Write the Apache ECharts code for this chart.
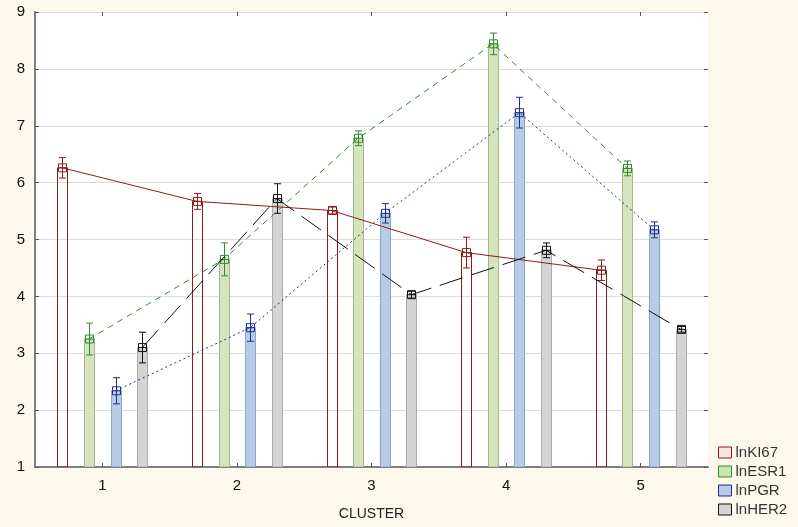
<!DOCTYPE html>
<html>
<head>
<meta charset="utf-8">
<script src="https://cdn.jsdelivr.net/npm/echarts/dist/echarts.min.js"></script>
<style>
  html, body { margin: 0; padding: 0; background: #fcf8ec; }
  #chart { width: 798px; height: 527px; }
</style>
</head>
<body>
<div id="chart"></div>
<script>
// Cluster means (log scale) with error half-widths
const clusters = ['1', '2', '3', '4', '5'];
const yTickValues = [1, 2, 3, 4, 5, 6, 7, 8, 9];

const lnKI67    = [6.26, 5.67, 5.51, 4.77, 4.46];
const lnKI67Err = [0.18, 0.14, 0.06, 0.27, 0.18];

const lnESR1    = [3.25, 4.65, 6.78, 8.44, 6.25];
const lnESR1Err = [0.28, 0.29, 0.13, 0.19, 0.13];

const lnPGR     = [2.34, 3.45, 5.46, 7.23, 5.17];
const lnPGRErr  = [0.23, 0.24, 0.17, 0.27, 0.14];

const lnHER2    = [3.10, 5.72, 4.03, 4.81, 3.42];
const lnHER2Err = [0.27, 0.26, 0.06, 0.13, 0.05];

const seriesNames = ['lnKI67', 'lnESR1', 'lnPGR', 'lnHER2'];

// Styling
const Y_MIN = 1, Y_MAX = 9;
const SLOT_STEP = 0.198;   // distance between neighbouring bars, in cluster units
const BAR_W = 10;
const styles = [
  { fill: 'rgba(0,0,0,0)', border: '#8c1c1c', color: '#8c1c1c', dash: 'solid', legendFill: '#f3e6e0' },
  { fill: '#d6e4bd', border: '#a4b98a', color: '#2f8a2f', dash: [6, 5],  legendFill: '#c9e6b0' },
  { fill: '#b7cbe8', border: '#8aa4cc', color: '#1f2f8f', dash: [2, 3],  legendFill: '#b7cbe8' },
  { fill: '#d4d4d4', border: '#ababab', color: '#111111', dash: [24, 9], legendFill: '#d4d4d4' }
];
const valueSets = [lnKI67, lnESR1, lnPGR, lnHER2];
const errorSets = [lnKI67Err, lnESR1Err, lnPGRErr, lnHER2Err];

function pointsFor(k) {
  const off = (k - 1.5) * SLOT_STEP;
  return valueSets[k].map((v, i) => [i + 1 + off, v, errorSets[k][i]]);
}

function barRenderer(st) {
  return function (params, api) {
    const x = api.value(0), v = api.value(1), e = api.value(2);
    const p = api.coord([x, v]);
    const b = api.coord([x, Y_MIN]);
    const hi = api.coord([x, v + e]);
    const lo = api.coord([x, v - e]);
    const cx = Math.round(p[0]) + 0.5;
    const capW = 3.5, mk = 4;
    return {
      type: 'group',
      children: [
        { type: 'rect', shape: { x: cx - BAR_W / 2, y: p[1], width: BAR_W, height: b[1] - p[1] },
          style: { fill: st.fill, stroke: st.border, lineWidth: 1 } },
        { type: 'line', shape: { x1: cx, y1: hi[1], x2: cx, y2: lo[1] },
          style: { stroke: st.color, lineWidth: 1 } },
        { type: 'line', shape: { x1: cx - capW, y1: hi[1], x2: cx + capW, y2: hi[1] },
          style: { stroke: st.color, lineWidth: 1 } },
        { type: 'line', shape: { x1: cx - capW, y1: lo[1], x2: cx + capW, y2: lo[1] },
          style: { stroke: st.color, lineWidth: 1 } },
        { type: 'rect', shape: { x: cx - mk, y: p[1] - mk, width: 2 * mk, height: 2 * mk },
          style: { fill: 'none', stroke: st.color, lineWidth: 1 } },
        { type: 'line', shape: { x1: cx - mk, y1: p[1], x2: cx + mk, y2: p[1] },
          style: { stroke: st.color, lineWidth: 1 } }
      ]
    };
  };
}

const series = [];
seriesNames.forEach((name, k) => {
  const st = styles[k];
  const pts = pointsFor(k);
  series.push({
    type: 'custom', name: name, xAxisIndex: 1, yAxisIndex: 0,
    data: pts, encode: { x: 0, y: 1 },
    itemStyle: { color: st.legendFill, borderColor: st.border },
    renderItem: barRenderer(st), clip: true
  });
  series.push({
    type: 'line', name: name, xAxisIndex: 1, yAxisIndex: 0,
    data: pts.map(p => [p[0], p[1]]),
    symbol: 'none', silent: true,
    lineStyle: { color: st.color, width: 1, type: st.dash }
  });
});

const chart = echarts.init(document.getElementById('chart'), null, { renderer: 'canvas' });
chart.setOption({
  animation: false,
  backgroundColor: '#fcf8ec',
  textStyle: { fontFamily: 'Liberation Sans, Arial, sans-serif' },
  grid: { left: 35, right: 90, top: 12, bottom: 60, show: true, backgroundColor: '#ffffff', borderWidth: 0 },
  legend: {
    orient: 'vertical', left: 718, top: 445, padding: 0,
    itemWidth: 13, itemHeight: 11, itemGap: 4,
    textStyle: { fontSize: 15, lineHeight: 15, color: '#333333', padding: [0, 0, 0, -1] },
    data: seriesNames.map((n, k) => ({
      name: n, icon: 'rect',
      itemStyle: { color: styles[k].legendFill, borderColor: styles[k].color, borderWidth: 1 }
    }))
  },
  xAxis: [
    {
      type: 'category', data: clusters, position: 'bottom', boundaryGap: true,
      name: 'CLUSTER', nameLocation: 'middle', nameGap: 40,
      nameTextStyle: { fontSize: 14, color: '#222222' },
      axisLine: { show: true, lineStyle: { color: '#808080', width: 2 } },
      axisTick: { show: true, inside: true, alignWithLabel: true, length: 4, lineStyle: { color: '#555555' } },
      axisLabel: { fontSize: 15, color: '#111111', margin: 11 },
      splitLine: { show: false }
    },
    {
      type: 'value', min: 0.5, max: 5.5, show: false
    },
    {
      type: 'category', data: clusters, position: 'top', boundaryGap: true,
      axisLine: { show: false },
      axisTick: { show: true, inside: true, alignWithLabel: true, length: 4, lineStyle: { color: '#555555' } },
      axisLabel: { show: false },
      splitLine: { show: false }
    }
  ],
  yAxis: [
    {
      type: 'value', min: Y_MIN, max: Y_MAX, interval: 1, position: 'left',
      axisLine: { show: true, lineStyle: { color: '#808080', width: 2 } },
      axisTick: { show: true, inside: true, length: 4, lineStyle: { color: '#555555' } },
      axisLabel: { fontSize: 15, color: '#111111', margin: 10,
        formatter: v => (yTickValues.includes(v) ? String(v) : '') },
      splitLine: { show: true, lineStyle: { color: '#dcdcdc', width: 1 } }
    },
    {
      type: 'value', min: Y_MIN, max: Y_MAX, interval: 1, position: 'right',
      axisLine: { show: false },
      axisTick: { show: true, inside: true, length: 4, lineStyle: { color: '#555555' } },
      axisLabel: { show: false },
      splitLine: { show: false }
    }
  ],
  series: series
});
</script>
</body>
</html>
